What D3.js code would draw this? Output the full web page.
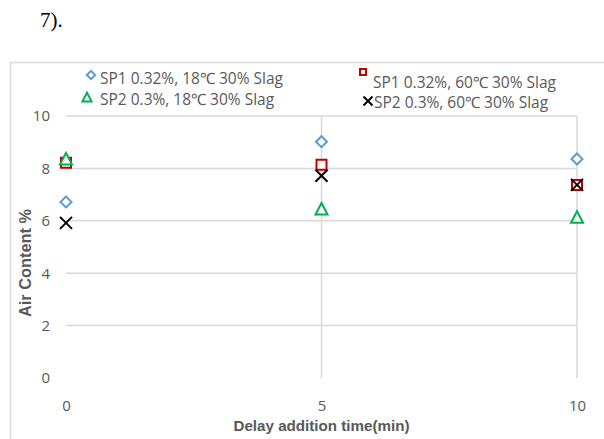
<!DOCTYPE html>
<html>
<head>
<meta charset="utf-8">
<script src="https://cdn.jsdelivr.net/npm/d3@7"></script>
<style>
  body { margin: 0; background: #fff; }
  svg { display: block; }
  text { font-family: "Liberation Sans", "DejaVu Sans", sans-serif; }
</style>
</head>
<body>
<div class="chart-container"></div>
<script>
// delay addition times (min)
var times = [0, 5, 10];
var sp1_18 = [6.72, 9.02, 8.36];
var sp1_60 = [8.22, 8.14, 7.37];
var sp2_18 = [8.32, 6.41, 6.1];
var sp2_60 = [5.92, 7.72, 7.37];
var seriesNames = ["SP1 0.32%, 18\u2103 30% Slag", "SP1 0.32%, 60\u2103 30% Slag",
                   "SP2 0.3%, 18\u2103 30% Slag", "SP2 0.3%, 60\u2103 30% Slag"];
var xTicks = [0, 5, 10];
var yTicks = [0, 2, 4, 6, 8, 10];

var W = 604, H = 439;
var margin = {top: 116, right: 27, bottom: 61, left: 66},
    width = W - margin.left - margin.right,
    height = H - margin.top - margin.bottom;

var svg = d3.select(".chart-container").append("svg")
    .attr("width", W)
    .attr("height", H);

// caption fragment above the chart
svg.append("text")
    .attr("x", 40).attr("y", 27)
    .style("font-family", "'Liberation Serif', serif")
    .style("font-size", "21px")
    .attr("fill", "#000")
    .text("7).");

// chart frame
svg.append("path")
    .attr("d", "M10.5," + (H + 5) + "V62.5H" + (W + 5))
    .attr("fill", "none")
    .attr("stroke", "#d9d9d9")
    .attr("stroke-width", 1.5);

var g = svg.append("g")
    .attr("transform", "translate(" + margin.left + "," + margin.top + ")");

var x = d3.scaleLinear().domain([0, 10]).range([0, width]);
var y = d3.scaleLinear().domain([0, 10]).range([height, 0]);

// horizontal gridlines (none at 0)
g.selectAll(".hgrid")
    .data(yTicks.filter(function(d) { return d > 0; }))
  .enter().append("line")
    .attr("class", "hgrid")
    .attr("x1", 0).attr("x2", width)
    .attr("y1", function(d) { return y(d); })
    .attr("y2", function(d) { return y(d); })
    .attr("stroke", "#d9d9d9").attr("stroke-width", 1.5);

// vertical gridlines (none at 0)
g.selectAll(".vgrid")
    .data(xTicks.filter(function(d) { return d > 0; }))
  .enter().append("line")
    .attr("class", "vgrid")
    .attr("y1", 0).attr("y2", height)
    .attr("x1", function(d) { return x(d); })
    .attr("x2", function(d) { return x(d); })
    .attr("stroke", "#d9d9d9").attr("stroke-width", 1.5);

// axes, labels only
var yAxis = g.append("g")
    .call(d3.axisLeft(y).tickValues(yTicks).tickSize(0).tickPadding(16));
var xAxis = g.append("g")
    .attr("transform", "translate(0," + height + ")")
    .call(d3.axisBottom(x).tickValues(xTicks).tickSize(0).tickPadding(22));
[xAxis, yAxis].forEach(function(a) {
  a.select(".domain").remove();
  a.selectAll("text")
    .style("font-family", "'Open Sans', sans-serif")
    .style("font-size", "15px")
    .attr("fill", "#595959");
});

// axis titles
svg.append("text")
    .attr("x", margin.left + width / 2).attr("y", 431)
    .attr("text-anchor", "middle")
    .attr("textLength", 176).attr("lengthAdjust", "spacingAndGlyphs")
    .style("font-size", "15.5px").style("font-weight", "bold")
    .attr("fill", "#595959")
    .text("Delay addition time(min)");

svg.append("text")
    .attr("transform", "translate(31,263) rotate(-90)")
    .attr("text-anchor", "middle")
    .attr("textLength", 108).attr("lengthAdjust", "spacingAndGlyphs")
    .style("font-size", "16px").style("font-weight", "bold")
    .attr("fill", "#595959")
    .text("Air Content %");

// marker shapes
var shapes = {
  diamond: "M0,-5.5L5.5,0L0,5.5L-5.5,0Z",
  square: "M-5,-5H5V5H-5Z",
  triangle: "M0,-7L6,4.5H-6Z",
  cross: "M-6,-6L6,6M6,-6L-6,6"
};
var series = [
  {name: seriesNames[0], values: sp1_18, shape: "diamond", color: "#5b9bd5"},
  {name: seriesNames[1], values: sp1_60, shape: "square", color: "#c00000"},
  {name: seriesNames[2], values: sp2_18, shape: "triangle", color: "#00b050"},
  {name: seriesNames[3], values: sp2_60, shape: "cross", color: "#000000"}
];

series.forEach(function(s) {
  g.selectAll(".pt-" + s.shape)
      .data(s.values)
    .enter().append("path")
      .attr("class", "pt-" + s.shape)
      .attr("d", shapes[s.shape])
      .attr("transform", function(d, i) { return "translate(" + x(times[i]) + "," + y(d) + ")"; })
      .attr("fill", s.shape === "cross" ? "none" : "#fff")
      .attr("stroke", s.color)
      .attr("stroke-width", 2);
});

// legend
var legendPos = [
  {mx: 91, my: 75, tx: 100, ty: 84, size: 0.75},
  {mx: 363, my: 72, tx: 373, ty: 88, size: 0.6},
  {mx: 87, my: 98, tx: 100, ty: 105, size: 0.75},
  {mx: 368, my: 101, tx: 374, ty: 108, size: 0.75}
];
series.forEach(function(s, i) {
  var p = legendPos[i];
  svg.append("path")
      .attr("d", shapes[s.shape])
      .attr("transform", "translate(" + p.mx + "," + p.my + ") scale(" + p.size + ")")
      .attr("fill", s.shape === "cross" ? "none" : "#fff")
      .attr("stroke", s.color)
      .attr("stroke-width", 2 / p.size);
  svg.append("text")
      .attr("x", p.tx).attr("y", p.ty)
      .style("font-family", "'Open Sans', sans-serif")
      .style("font-size", "15.5px")
      .attr("fill", "#595959")
      .text(s.name);
});
</script>
</body>
</html>
